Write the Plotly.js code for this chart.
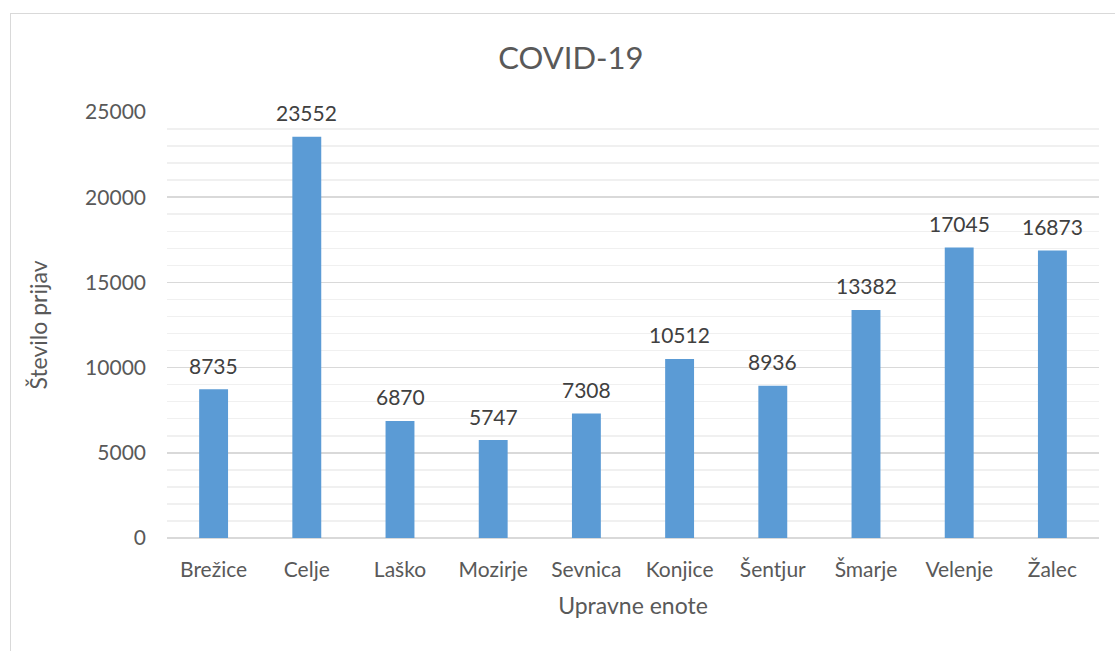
<!DOCTYPE html>
<html><head><meta charset="utf-8">
<script src="https://cdn.plot.ly/plotly-3.0.1.min.js"></script>
<style>
body{margin:0;background:#fff;}
#wrap{position:relative;width:1115px;height:651px;}
#frame{position:absolute;left:10px;top:13px;width:1110px;height:650px;border:1px solid #D9D9D9;box-sizing:border-box;pointer-events:none;}
#chart{position:absolute;left:0;top:0;width:1115px;height:651px;}
</style></head>
<body><div id="wrap"><div id="chart"></div><div id="frame"></div></div>
<script>
const categories = ["Brežice","Celje","Laško","Mozirje","Sevnica","Konjice","Šentjur","Šmarje","Velenje","Žalec"];
const values = [8735,23552,6870,5747,7308,10512,8936,13382,17045,16873];
const chartTitle = "COVID-19";
const xTitle = "Upravne enote";
const yTitle = "Število prijav";

const font = "Lato, 'Open Sans', sans-serif";
const labels = categories.map((c,i)=>({
  x:c, y:values[i], xref:'x', yref:'y', text:String(values[i]), showarrow:false,
  yanchor:'middle', yshift:24, font:{family:font,size:21,color:'#404040'}
}));
Plotly.newPlot('chart', [{
  type:'bar', x:categories, y:values,
  marker:{color:'#5B9BD5'},
  hoverinfo:'x+y'
}], {
  width:1115, height:651,
  margin:{l:167,r:16,t:112,b:113},
  paper_bgcolor:'rgba(0,0,0,0)', plot_bgcolor:'#fff',
  bargap:0.69,
  annotations:labels,
  title:{text:chartTitle, x:0.512, xanchor:'center', y:0.91, yanchor:'middle', font:{family:font,size:31,color:'#595959'}},
  xaxis:{type:'category', showgrid:false, showline:false, zeroline:false, ticks:'',
    tickfont:{family:font,size:21,color:'#595959'}, ticklabelstandoff:17,
    title:{text:xTitle, font:{family:font,size:23,color:'#595959'}, standoff:17}},
  yaxis:{range:[0,25000], dtick:5000, tick0:0, tickformat:'d', showgrid:true, gridcolor:'#D9D9D9', gridwidth:1.5,
    minor:{dtick:1000, showgrid:true, gridcolor:'#F0F0F0', gridwidth:1.5},
    zeroline:true, zerolinecolor:'#D9D9D9', zerolinewidth:1.5, showline:false, ticks:'',
    tickfont:{family:font,size:21,color:'#595959'}, ticklabelstandoff:20,
    title:{text:yTitle, font:{family:font,size:23,color:'#595959'}, standoff:31}},
  showlegend:false
}, {displayModeBar:false, staticPlot:true});
</script></body></html>
